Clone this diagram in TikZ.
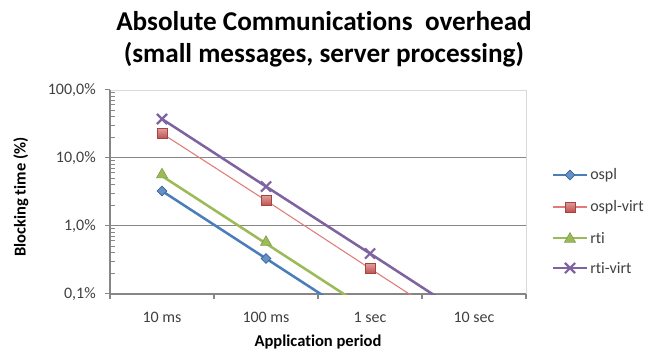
\documentclass[tikz,border=0pt]{standalone}
\usepackage{fontspec}
\setmainfont{Carlito}[Ligatures={NoCommon}]
\usetikzlibrary{shapes.geometric,shapes.misc}
\definecolor{cblue}{HTML}{4A7EBB}
\definecolor{cred}{HTML}{C0504D}
\definecolor{credl}{HTML}{E07B78}
\definecolor{cgreen}{HTML}{9BBB59}
\definecolor{cpurple}{HTML}{7F63A1}
\definecolor{cgrid}{HTML}{868686}
\definecolor{cframe}{HTML}{D9D9D9}
\definecolor{ctext}{HTML}{404040}
\tikzset{
  ticklabel/.style={text=ctext, font=\fontsize{12}{14}\selectfont, inner sep=0pt},
  axistitle/.style={text=black, font=\bfseries\fontsize{12.4}{14}\selectfont, inner sep=0pt},
  legtext/.style={text=ctext, font=\fontsize{12}{14}\selectfont, inner sep=0pt, anchor=west},
  blueline/.style={draw=cblue, line width=1.9pt},
  redline/.style={draw=credl, line width=0.8pt},
  greenline/.style={draw=cgreen, line width=1.9pt},
  purpleline/.style={draw=cpurple, line width=1.9pt},
  mkdiamond/.style={diamond, draw=cblue!80!black, fill=cblue!85!white, line width=0.5pt, inner sep=0pt, minimum size=7.5pt},
  mksquare/.style={rectangle, draw=cred!85!black, top color=cred!55!white, bottom color=cred, line width=0.5pt, inner sep=0pt, minimum size=7.5pt},
  mktriangle/.style={regular polygon, regular polygon sides=3, draw=cgreen!85!black, fill=cgreen, line width=0.5pt, inner sep=0pt, minimum size=9.5pt},
  mkcross/.style={cross out, draw=cpurple, line width=1.6pt, inner sep=0pt, minimum size=6pt},
}
\begin{document}
\begin{tikzpicture}[x=0.75pt,y=-0.75pt]
\useasboundingbox (0,0) rectangle (660,354);

% title
\node[font=\bfseries\fontsize{20.4}{24}\selectfont, align=center, inner sep=0pt] (title) at (324,39)
  {Absolute Communications\ \ overhead\\(small messages, server processing)};

% plot frame
\draw[cframe, line width=0.6pt] (110,90) -- (526,90) -- (526,294);
% gridlines
\draw[cgrid, line width=0.6pt] (110,157.5) -- (526,157.5);
\draw[cgrid, line width=0.6pt] (110,225.5) -- (526,225.5);

% y axis
\draw[cgrid, line width=0.8pt] (110,90) -- (110,294);
\foreach \b in {293.5,225.5,157.5,89.5}{
  \draw[cgrid, line width=0.8pt] (105,\b) -- (110,\b);
}
\foreach \b in {293.5,225.5,157.5}{
  \foreach \k in {2,...,9}{
    \draw[cgrid, line width=0.6pt] (110,{\b-68*log10(\k)}) -- (115,{\b-68*log10(\k)});
  }
}
% x axis
\draw[cgrid, line width=0.8pt] (110,294) -- (526,294);
\foreach \t in {110,214,318,422,526}{
  \draw[cgrid, line width=0.8pt] (\t,294) -- (\t,299);
}

% y tick labels
\node[ticklabel, anchor=east] (y100) at (96,90) {100,0\%};
\node[ticklabel, anchor=east] (y10) at (96,158) {10,0\%};
\node[ticklabel, anchor=east] (y1) at (96,226) {1,0\%};
\node[ticklabel, anchor=east] (y01) at (96,294) {0,1\%};

% x tick labels
\node[ticklabel] (x1) at (162,317) {10 ms};
\node[ticklabel] (x2) at (266,317) {100 ms};
\node[ticklabel] (x3) at (370,317) {1 sec};
\node[ticklabel] (x4) at (474,317) {10 sec};

% axis titles
\node[axistitle] (xt) at (318,342) {Application period};
\node[axistitle, rotate=90] (yt) at (21,197) {Blocking time (\%)};

% data coordinates
\coordinate (o1) at (162,191);
\coordinate (o2) at (266,258.5);
\coordinate (o3) at (370,326);
\coordinate (r1) at (162,133.5);
\coordinate (r2) at (266,200.5);
\coordinate (r3) at (370,268.5);
\coordinate (r4) at (474,336);
\coordinate (g1) at (162,176);
\coordinate (g2) at (266,243.5);
\coordinate (g3) at (370,311);
\coordinate (p1) at (162,119);
\coordinate (p2) at (266,186.5);
\coordinate (p3) at (370,253.5);
\coordinate (p4) at (474,321);

\begin{scope}
  \clip (110,88) rectangle (526,294);
  \draw[blueline] (o1) -- (o2) -- (o3);
  \draw[redline] (r1) -- (r2) -- (r3) -- (r4);
  \draw[greenline] (g1) -- (g2) -- (g3);
  \draw[purpleline] (p1) -- (p2) -- (p3) -- (p4);
\end{scope}

% markers
\node[mkdiamond] (mo1) at (o1) {};
\node[mkdiamond] (mo2) at (o2) {};
\node[mksquare] (mr1) at (r1) {};
\node[mksquare] (mr2) at (r2) {};
\node[mksquare] (mr3) at (r3) {};
\node[mktriangle] (mg1) at ([yshift=1pt]g1) {};
\node[mktriangle] (mg2) at ([yshift=1pt]g2) {};
\node[mkcross] (mp1) at (p1) {};
\node[mkcross] (mp2) at (p2) {};
\node[mkcross] (mp3) at (p3) {};

% legend
\coordinate (la1) at (553,175); \coordinate (lb1) at (587,175);
\coordinate (la2) at (553,207); \coordinate (lb2) at (587,207);
\coordinate (la3) at (553,238); \coordinate (lb3) at (587,238);
\coordinate (la4) at (553,268); \coordinate (lb4) at (587,268);
\draw[blueline] (la1) -- (lb1);
\draw[redline] (la2) -- (lb2);
\draw[greenline] (la3) -- (lb3);
\draw[purpleline] (la4) -- (lb4);
\node[mkdiamond] (lm1) at (570,175) {};
\node[mksquare] (lm2) at (570,207) {};
\node[mktriangle] (lm3) at (570,239) {};
\node[mkcross] (lm4) at (570,268) {};
\node[legtext] (lt1) at (590,175) {ospl};
\node[legtext] (lt2) at (590,207) {ospl-virt};
\node[legtext] (lt3) at (590,238) {rti};
\node[legtext] (lt4) at (590,268) {rti-virt};
\end{tikzpicture}
\end{document}
